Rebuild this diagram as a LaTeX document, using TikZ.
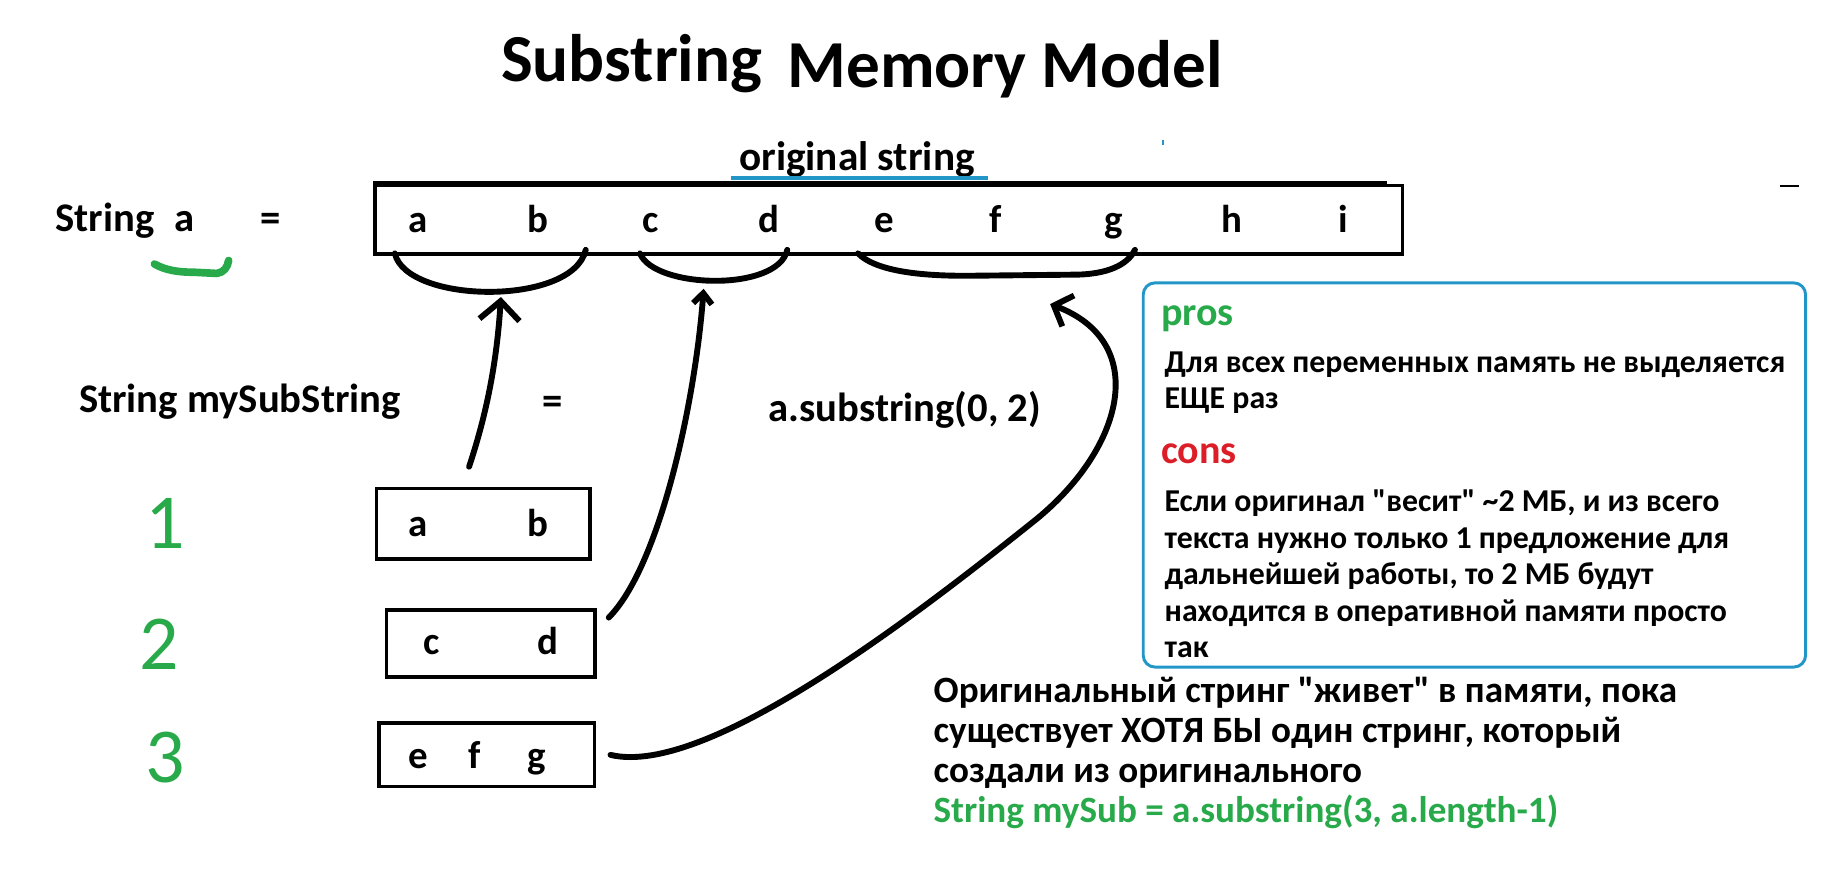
\documentclass[tikz,border=0pt]{standalone}
\usepackage{fontspec}
\setmainfont{Carlito}
\usetikzlibrary{arrows.meta,calc}
\definecolor{markgreen}{RGB}{40,170,75}
\definecolor{markblue}{RGB}{35,150,200}
\definecolor{markred}{RGB}{220,30,40}
\newcommand{\tightlines}{\lineskiplimit=-40pt\relax}

\begin{document}
\begin{tikzpicture}[
    x=1pt, y=-1pt,
    label/.style={font=\fontsize{34.5}{38}\selectfont\bfseries, inner sep=0pt, anchor=base west},
    chr/.style={font=\fontsize{33}{38}\selectfont\bfseries, inner sep=0pt, anchor=base},
    cell/.style={draw, line width=3pt, inner sep=0pt},
    hand/.style={line width=5pt, line cap=round, line join=round},
    bigtip/.style={-{Straight Barb[length=16pt,width=34pt]}},
    smalltip/.style={-{Straight Barb[length=9pt,width=16pt]}},
    hooktip/.style={-{Straight Barb[length=13pt,width=28pt]}},
    info/.style={font=\fontsize{27}{30}\selectfont\bfseries, inner sep=0pt, anchor=base west},
    head/.style={font=\fontsize{34}{36}\selectfont\bfseries, inner sep=0pt, anchor=base west},
    note/.style={font=\fontsize{31.5}{34}\selectfont\bfseries\tightlines, align=left, inner sep=0pt, anchor=north west},
    digit/.style={font=\fontsize{66}{70}\selectfont, text=markgreen, inner sep=0pt, anchor=base}
]
\useasboundingbox (0,0) rectangle (1568,737);

% Title
\node[font=\fontsize{57}{60}\selectfont\bfseries, inner sep=0pt, anchor=base west] (title1) at (425,69) {Substring};
\node[font=\fontsize{57}{60}\selectfont\bfseries, inner sep=0pt, anchor=base west] (title2) at (668,74) {Memory Model};

% Original string
\node[label, font=\fontsize{35}{38}\selectfont\bfseries] (origlbl) at (627,145) {original string};
\draw[markblue, line width=3pt] (620,151) -- (838,151);
\draw[markblue, line width=1.5pt] (987,119) -- (987,123);
\draw[line width=1.5pt] (1510,158) -- (1526,158);

\node[label] (stra) at (47,196) {String\hspace{0.5em}a};
\node[label] (eqa) at (221,196) {=};
\draw[markgreen, hand, line width=6.5pt] (131,224) .. controls (140,229) and (150,231) .. (165,231)
    -- (184,232) .. controls (190,231) and (193,227) .. (194,221);

\node[cell, minimum width=872pt, minimum height=58pt] (orig) at (754,186.5) {};
\draw[line width=4.5pt] (orig.north west) -- ([xshift=-15pt]orig.north east);
\foreach \l/\x in {a/355, b/456, c/552, d/652, e/750, f/845, g/945, h/1045, i/1140}
    \node[chr] (o-\l) at (\x,197) {\l};

% Braces under the original string
\draw[hand] (335,215) .. controls (345,258) and (486,260) .. (497,212);
\draw[hand] (543,215) .. controls (555,245) and (660,248) .. (668,212);
\draw[hand] (728,215) .. controls (745,232) and (790,234) .. (820,234)
    -- (915,233) .. controls (945,232) and (958,222) .. (963,212);
\coordinate (br1) at (425,252);
\coordinate (br2) at (597,245);
\coordinate (br3) at (891,258);

% Assignment line
\node[label] (sub) at (67,350) {String mySubString};
\node[label] (eqs) at (460,352) {=};
\node[label] (call) at (652,358) {a.substring(0, 2)};

% Substrings
\node[digit] (n1) at (140,465) {1};
\node[digit] (n2) at (135,568) {2};
\node[digit] (n3) at (140,664) {3};

\node[cell, minimum width=181pt, minimum height=60pt] (box1) at (410,444.5) {};
\node[chr] (s1a) at (355,455) {a};
\node[chr] (s1b) at (456,455) {b};
\node[cell, minimum width=177pt, minimum height=57pt] (box2) at (416.5,546) {};
\node[chr] (s2c) at (366,555) {c};
\node[chr] (s2d) at (465,555) {d};
\node[cell, minimum width=183pt, minimum height=54pt] (box3) at (413,640.5) {};
\node[chr] (s3e) at (355,652) {e};
\node[chr] (s3f) at (403,652) {f};
\node[chr] (s3g) at (455,652) {g};

% Pointers back into the original
\draw[hand, bigtip] ($(box1.north)+(-12,-17)$) .. controls (415,345) and (422,300) .. (br1);
\draw[hand, smalltip] ($(box2.north east)+(10,8)$) .. controls (560,480) and (590,340) .. (br2);
\draw[hand, hooktip] ($(box3.east)+(12,0)$) .. controls (600,660) and (780,520) .. (880,440)
    .. controls (955,378) and (975,290) .. (br3);

% Pros and cons
\node[draw=markblue, line width=2.5pt, rounded corners=10pt, minimum width=562pt, minimum height=326pt] (panel) at (1251,403) {};
\node[head, text=markgreen] (pros) at (985,276) {pros};
\node[info] (pros-1) at (988,316) {Для всех переменных память не выделяется};
\node[info] (pros-2) at (988,347) {ЕЩЕ раз};
\node[head, text=markred] (cons) at (985,393) {cons};
\foreach \txt [count=\k] in {{Если оригинал \textquotedbl весит\textquotedbl{} \textasciitilde 2 МБ, и из всего},
    {текста нужно только 1 предложение для}, {дальнейшей работы, то 2 МБ будут},
    {находится в оперативной памяти просто}, {так}}
    \node[info] (cons-\k) at (988,{434+31*(\k-1)}) {\txt};

% Lifetime note
\node[note] (life) at (792,574) {Оригинальный стринг \textquotedbl живет\textquotedbl{} в памяти, пока\\
    существует ХОТЯ БЫ один стринг, который\\
    создали из оригинального\\
    \textcolor{markgreen}{String mySub = a.substring(3, a.length-1)}};
\end{tikzpicture}
\end{document}
